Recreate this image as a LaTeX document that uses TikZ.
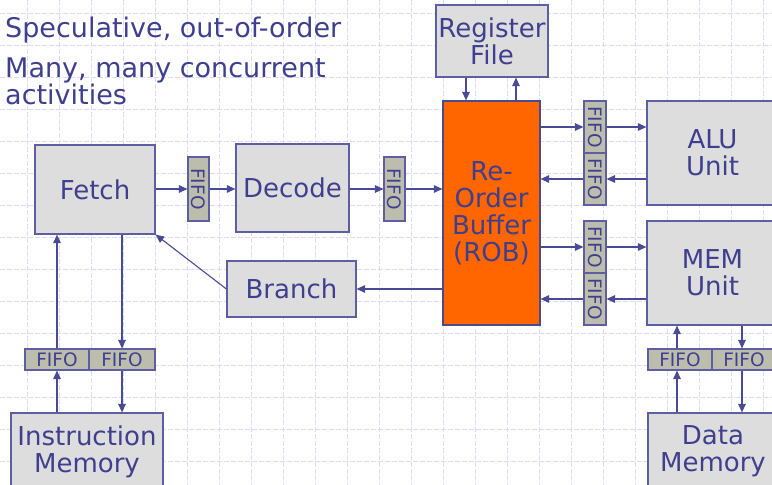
\documentclass[tikz,border=0pt]{standalone}
\usepackage{fontspec}
\usepackage{graphicx}
\setmainfont{DejaVu Sans}
\usetikzlibrary{arrows.meta}
\definecolor{txt}{HTML}{3F3F8F}
\definecolor{edge}{HTML}{5E5EA2}
\definecolor{robedge}{HTML}{4B4B8A}
\definecolor{boxfill}{HTML}{DDDDDD}
\definecolor{fifofill}{HTML}{BDBDAD}
\definecolor{robfill}{HTML}{FF6600}
\definecolor{gridc}{HTML}{DADAFA}
\definecolor{arrc}{HTML}{4A4A96}
\begin{document}
\begin{tikzpicture}[x=1pt,y=-1pt,
  unitbox/.style={draw=edge, fill=boxfill, line width=1.2pt, inner sep=0pt, text=txt,
    font=\fontsize{26}{27}\selectfont, align=center},
  robbox/.style={unitbox, draw=robedge, fill=robfill},
  fifobox/.style={draw=edge, fill=fifofill, line width=1.1pt, inner sep=0pt, text=txt,
    font=\fontsize{18.5}{18.5}\selectfont},
  vfifo/.style={fifobox, minimum width=21pt, minimum height=64pt},
  sfifo/.style={fifobox, minimum width=22pt, minimum height=52pt},
  hfifo/.style={fifobox, minimum width=64pt, minimum height=21pt},
  arr/.style={draw=arrc, line width=1.1pt, -{Triangle[length=8.5pt,width=7.5pt]}},
  gridline/.style={draw=gridc, line width=0.6pt, dash pattern=on 5pt off 2pt},
  headtext/.style={anchor=base west, inner sep=0pt, text=txt, font=\fontsize{27}{28}\selectfont}
]
\useasboundingbox (0,0) rectangle (772,485);
\clip (0,0) rectangle (772,485);
\fill[white] (0,0) rectangle (772,485);
\foreach \x in {27,59,...,763} \draw[gridline] (\x,0) -- (\x,485);
\foreach \y in {13,45,...,480} \draw[gridline] (0,\y) -- (772,\y);

% header text
\node[headtext] (t1) at (5,37) {Speculative, out-of-order};
\node[headtext] (t2) at (5,77) {Many, many concurrent};
\node[headtext] (t3) at (5,104) {activities};

% units
\node[unitbox, minimum width=120pt, minimum height=89pt] (fetch) at (95,189.5) {Fetch};
\node[vfifo] (ff1) at (198.5,189) {\rotatebox{-90}{FIFO}};
\node[unitbox, minimum width=113pt, minimum height=88pt] (decode) at (292.5,188) {Decode};
\node[vfifo] (ff2) at (394.5,189) {\rotatebox{-90}{FIFO}};
\node[robbox, minimum width=97pt, minimum height=224pt] (rob) at (491.5,213) {Re-\\Order\\Buffer\\(ROB)};
\node[unitbox, minimum width=112pt, minimum height=72pt] (rf) at (492,41) {Register\\File};
\node[sfifo] (alua) at (595,127) {\rotatebox{-90}{FIFO}};
\node[sfifo] (alub) at (595,179) {\rotatebox{-90}{FIFO}};
\node[unitbox, minimum width=131pt, minimum height=104pt] (alu) at (712.5,153) {ALU\\Unit};
\node[sfifo] (mema) at (595,247) {\rotatebox{-90}{FIFO}};
\node[sfifo] (memb) at (595,299) {\rotatebox{-90}{FIFO}};
\node[unitbox, minimum width=131pt, minimum height=104pt] (mem) at (712.5,273) {MEM\\Unit};
\node[unitbox, minimum width=129pt, minimum height=56pt] (branch) at (291.5,289) {Branch};
\node[hfifo] (iml) at (57,359.5) {FIFO};
\node[hfifo, minimum width=66pt] (imr) at (122,359.5) {FIFO};
\node[unitbox, minimum width=152pt, minimum height=77pt] (im) at (87,451.5) {Instruction\\Memory};
\node[hfifo] (dml) at (680,359.5) {FIFO};
\node[hfifo] (dmr) at (744,359.5) {FIFO};
\node[unitbox, minimum width=130pt, minimum height=77pt] (dm) at (713,451.5) {Data\\Memory};

% connectors
\draw[arr] (fetch.east |- ff1) -- (ff1.west);
\draw[arr] (ff1.east) -- (decode.west |- ff1);
\draw[arr] (decode.east |- ff2) -- (ff2.west);
\draw[arr] (ff2.east) -- (rob.west |- ff2);
\draw[arr] ([xshift=-26pt]rf.south) -- ([xshift=-26pt]rf.south |- rob.north);
\draw[arr] ([xshift=24pt]rf.south |- rob.north) -- ([xshift=24pt]rf.south);
\draw[arr] (rob.east |- alua) -- (alua.west);
\draw[arr] (alua.east) -- (alu.west |- alua);
\draw[arr] (alu.west |- alub) -- (alub.east);
\draw[arr] (alub.west) -- (rob.east |- alub);
\draw[arr] (rob.east |- mema) -- (mema.west);
\draw[arr] (mema.east) -- (mem.west |- mema);
\draw[arr] (mem.west |- memb) -- (memb.east);
\draw[arr] (memb.west) -- (rob.east |- memb);
\draw[arr] (rob.west |- branch) -- (branch.east);
\draw[arr] (branch.west) -- (fetch.south east);
\draw[arr] (iml.north) -- (fetch.south -| iml);
\draw[arr] (fetch.south -| imr) -- (imr.north);
\draw[arr] (im.north -| iml) -- (iml.south);
\draw[arr] (imr.south) -- (im.north -| imr);
\draw[arr] ([xshift=-3pt]dml.north) -- ([xshift=-3pt]mem.south -| dml);
\draw[arr] ([xshift=-2pt]mem.south -| dmr) -- ([xshift=-2pt]dmr.north);
\draw[arr] ([xshift=-3pt]dm.north -| dml) -- ([xshift=-3pt]dml.south);
\draw[arr] ([xshift=-2pt]dmr.south) -- ([xshift=-2pt]dm.north -| dmr);
\end{tikzpicture}
\end{document}
